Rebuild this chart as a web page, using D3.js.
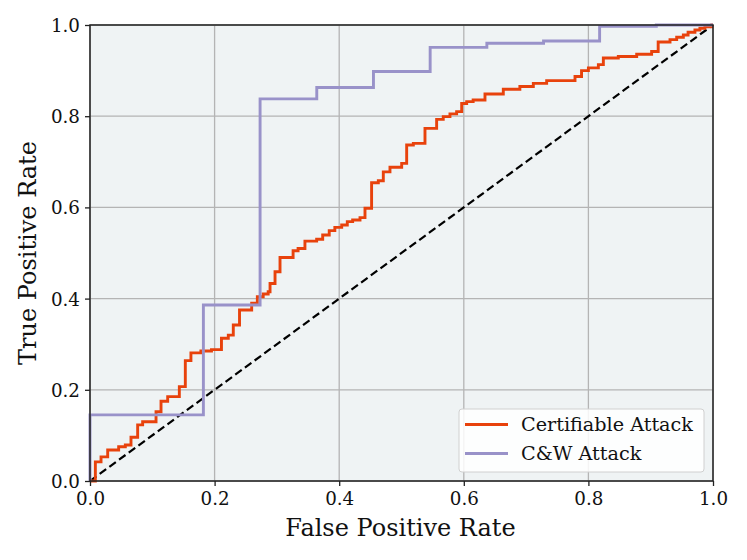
<!DOCTYPE html>
<html>
<head>
<meta charset="utf-8">
<script src="https://cdn.jsdelivr.net/npm/d3@7"></script>
<style>
  body { margin: 0; background: #fff; }
  svg text { font-family: "DejaVu Serif", serif; fill: #111; }
</style>
</head>
<body>
<script>
// ROC corners (x where the curve rises, y after the rise)
const certFpr = [0, 0.0086, 0.0177, 0.0284, 0.046, 0.0567, 0.0658, 0.0765, 0.0845, 0.106, 0.114, 0.1247, 0.1434, 0.153,
  0.162, 0.178, 0.195, 0.211, 0.222, 0.230, 0.240, 0.2595, 0.2686, 0.278, 0.286, 0.289, 0.297, 0.305, 0.326, 0.334, 0.345,
  0.3638, 0.3735, 0.384, 0.393, 0.404, 0.413, 0.4216, 0.4334, 0.4414, 0.452, 0.4628, 0.4708, 0.4815, 0.5003, 0.5083, 0.519,
  0.5377, 0.5564, 0.567, 0.5778, 0.5885, 0.5966, 0.6046, 0.615, 0.634, 0.6634, 0.690, 0.7116, 0.733, 0.7785,
  0.789, 0.800, 0.816, 0.824, 0.848, 0.8775, 0.9015, 0.912, 0.931, 0.9417, 0.9524, 0.960, 0.971, 0.979, 0.987, 0.998, 1.0]
const certTpr = [0, 0.042, 0.053, 0.068, 0.075, 0.079, 0.096, 0.123, 0.130, 0.152, 0.175, 0.185, 0.207, 0.264,
  0.281, 0.285, 0.288, 0.313, 0.320, 0.342, 0.375, 0.390, 0.404, 0.410, 0.415, 0.433, 0.459, 0.490, 0.505, 0.510, 0.526,
  0.530, 0.5395, 0.549, 0.5563, 0.5614, 0.5687, 0.5724, 0.5775, 0.598, 0.654, 0.6586, 0.678, 0.688, 0.6966, 0.737, 0.7405,
  0.7734, 0.793, 0.799, 0.805, 0.810, 0.828, 0.832, 0.8355, 0.8487, 0.859, 0.865, 0.872, 0.878, 0.887,
  0.900, 0.906, 0.913, 0.9276, 0.931, 0.936, 0.942, 0.9627, 0.968, 0.973, 0.978, 0.984, 0.989, 0.993, 0.996, 1.0, 1.0]

const cwFpr = [0, 0, 0.182, 0.273, 0.364, 0.455, 0.546, 0.637, 0.728, 0.818, 0.909, 1.0]
const cwTpr = [0, 0.145, 0.386, 0.838, 0.863, 0.898, 0.951, 0.960, 0.965, 0.997, 1.0, 1.0]

const ticks = [0, 0.2, 0.4, 0.6, 0.8, 1.0]
const seriesNames = ["Certifiable Attack", "C&W Attack"]
const seriesColors = ["#e8420c", "#9992c9"]

const W = 747, H = 560
const margin = {left: 90, top: 25, right: 34, bottom: 79}
const width = W - margin.left - margin.right
const height = H - margin.top - margin.bottom

const x = d3.scaleLinear().domain([0, 1]).range([0, width])
const y = d3.scaleLinear().domain([0, 1]).range([height, 0])

const svg = d3.select("body").append("svg")
    .attr("width", W)
    .attr("height", H)

const g = svg.append("g")
    .attr("transform", `translate(${margin.left},${margin.top})`)

g.append("rect")
    .attr("width", width)
    .attr("height", height)
    .attr("fill", "#eff3f4")

// grid
g.append("g").selectAll("line").data(ticks).join("line")
    .attr("x1", d => x(d)).attr("x2", d => x(d))
    .attr("y1", 0).attr("y2", height)
    .attr("stroke", "#b4b4b4").attr("stroke-width", 1.3)
g.append("g").selectAll("line").data(ticks).join("line")
    .attr("y1", d => y(d)).attr("y2", d => y(d))
    .attr("x1", 0).attr("x2", width)
    .attr("stroke", "#b4b4b4").attr("stroke-width", 1.3)

// diagonal
g.append("line")
    .attr("x1", x(0)).attr("y1", y(0))
    .attr("x2", x(1)).attr("y2", y(1))
    .attr("stroke", "#000").attr("stroke-width", 2.2)
    .attr("stroke-dasharray", "8,4")

const line = d3.line()
    .x(d => x(d[0]))
    .y(d => y(d[1]))
    .curve(d3.curveStepAfter)

g.append("path")
    .datum(d3.zip(certFpr, certTpr))
    .attr("d", line)
    .attr("fill", "none")
    .attr("stroke", seriesColors[0])
    .attr("stroke-width", 2.9)

g.append("path")
    .datum(d3.zip(cwFpr, cwTpr))
    .attr("d", line)
    .attr("fill", "none")
    .attr("stroke", seriesColors[1])
    .attr("stroke-width", 2.9)

// frame
g.append("rect")
    .attr("width", width)
    .attr("height", height)
    .attr("fill", "none")
    .attr("stroke", "#222")
    .attr("stroke-width", 1.5)

// axes
const xAxis = g.append("g")
    .attr("transform", `translate(0,${height})`)
    .call(d3.axisBottom(x).tickValues(ticks).tickFormat(d3.format(".1f")).tickSize(5).tickPadding(6))
const yAxis = g.append("g")
    .call(d3.axisLeft(y).tickValues(ticks).tickFormat(d3.format(".1f")).tickSize(5).tickPadding(5))
for (const a of [xAxis, yAxis]) {
  a.select(".domain").remove()
  a.selectAll(".tick line").attr("stroke", "#222").attr("stroke-width", 1.3)
  a.selectAll(".tick text").attr("font-size", 18.3).attr("font-family", "DejaVu Serif").attr("fill", "#111")
}
yAxis.selectAll(".tick text").attr("dy", "0.36em")

svg.append("text")
    .attr("x", margin.left + width / 2 - 1)
    .attr("y", 536)
    .attr("text-anchor", "middle")
    .attr("font-size", 24)
    .text("False Positive Rate")

svg.append("text")
    .attr("transform", `translate(36,${margin.top + height / 2}) rotate(-90)`)
    .attr("text-anchor", "middle")
    .attr("font-size", 24)
    .text("True Positive Rate")

// legend
const legend = svg.append("g").attr("transform", "translate(459,409)")
legend.append("rect")
    .attr("width", 245).attr("height", 63).attr("rx", 3)
    .attr("fill", "#fff").attr("fill-opacity", 0.85)
    .attr("stroke", "#d0d0d0")
seriesNames.forEach((name, i) => {
  const row = legend.append("g").attr("transform", `translate(0,${15.5 + i * 29})`)
  row.append("line")
      .attr("x1", 6).attr("x2", 49)
      .attr("stroke", seriesColors[i]).attr("stroke-width", 2.9)
  row.append("text")
      .attr("x", 62).attr("dy", "0.35em")
      .attr("font-size", 19.2)
      .text(name)
})
</script>
</body>
</html>
